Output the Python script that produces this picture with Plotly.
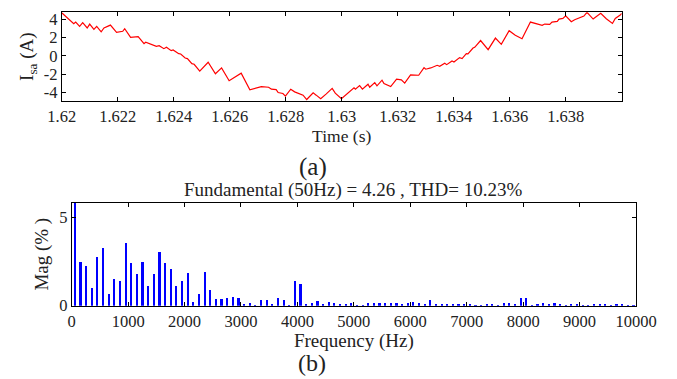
import plotly.graph_objects as go

# ---- (a) phase current waveform ----
time_s = [1.62000, 1.62043, 1.62050, 1.62064, 1.62075, 1.62091, 1.62100, 1.62115, 1.62125, 1.62141,
          1.62151, 1.62174, 1.62196, 1.62218, 1.62225, 1.62246, 1.62273, 1.62294, 1.62300, 1.62314,
          1.62338, 1.62348, 1.62365, 1.62374, 1.62391, 1.62398, 1.62418, 1.62425, 1.62441, 1.62449,
          1.62465, 1.62473, 1.62493, 1.62523, 1.62549, 1.62571, 1.62598, 1.62641, 1.62672, 1.62713,
          1.62725, 1.62739, 1.62749, 1.62766, 1.62773, 1.62790, 1.62799, 1.62818, 1.62832, 1.62850,
          1.62862, 1.62875, 1.62898, 1.62909, 1.62925, 1.62945, 1.62966, 1.62977, 1.62999, 1.63044,
          1.63049, 1.63064, 1.63074, 1.63094, 1.63100, 1.63118, 1.63126, 1.63144, 1.63151, 1.63175,
          1.63196, 1.63213, 1.63225, 1.63246, 1.63275, 1.63294, 1.63300, 1.63318, 1.63341, 1.63350,
          1.63368, 1.63375, 1.63394, 1.63401, 1.63421, 1.63430, 1.63445, 1.63451, 1.63469, 1.63475,
          1.63496, 1.63523, 1.63549, 1.63570, 1.63598, 1.63620, 1.63644, 1.63674, 1.63695, 1.63716,
          1.63725, 1.63743, 1.63751, 1.63770, 1.63776, 1.63790, 1.63800, 1.63820, 1.63832, 1.63865,
          1.63876, 1.63898, 1.63925, 1.63945, 1.63967, 1.63977, 1.63996, 1.64000]
current_a = [4.73, 3.53, 3.71, 3.24, 3.64, 3.06, 3.49, 2.91, 3.24, 2.65,
             3.06, 3.38, 2.59, 2.70, 2.98, 2.04, 2.11, 1.34, 1.50, 1.34,
             1.06, 1.12, 0.80, 0.95, 0.58, 0.66, 0.25, 0.22, -0.22, -0.29,
             -0.84, -0.91, -1.66, -0.69, -1.95, -1.31, -2.71, -1.88, -3.70, -3.35,
             -3.42, -3.42, -3.64, -3.68, -4.00, -4.11, -4.40, -3.64, -3.93, -4.11,
             -4.29, -4.77, -4.04, -4.29, -4.69, -4.15, -3.55, -4.07, -4.68, -3.49,
             -3.64, -3.24, -3.64, -3.09, -3.42, -2.91, -3.27, -2.65, -3.02, -3.35,
             -2.54, -2.62, -2.98, -2.07, -2.11, -1.27, -1.45, -1.31, -1.02, -1.13,
             -0.80, -0.95, -0.55, -0.66, -0.18, -0.29, 0.25, 0.22, 0.87, 0.95,
             1.69, 0.69, 1.96, 1.27, 2.76, 2.26, 1.89, 3.71, 3.56, 3.35,
             3.49, 3.46, 3.71, 3.78, 4.04, 4.11, 4.40, 3.75, 3.96, 4.37,
             4.78, 4.04, 4.68, 4.07, 3.56, 4.11, 4.51, 4.65]
time_ticks = [1.62, 1.622, 1.624, 1.626, 1.628, 1.63, 1.632, 1.634, 1.636, 1.638]
time_tick_labels = ["1.62", "1.622", "1.624", "1.626", "1.628", "1.63", "1.632", "1.634", "1.636", "1.638"]
current_ticks = [-4, -2, 0, 2, 4]
current_tick_labels = ["-4", "-2", "0", "2", "4"]

# ---- (b) harmonic spectrum (odd harmonics of 50 Hz) ----
freq_hz = [50 + 100 * k for k in range(100)]
mag_pct = [100.0, 2.49, 2.28, 1.04, 2.79, 3.30, 0.68, 1.51, 1.42, 3.58,
           2.42, 1.79, 2.47, 1.15, 1.79, 3.08, 2.42, 2.08, 1.11, 1.42,
           1.89, 0.21, 0.70, 1.91, 0.89, 0.42, 0.40, 0.47, 0.49, 0.45,
           0.11, 0.15, 0.04, 0.32, 0.32, 0.13, 0.43, 0.32, 0.02, 1.40,
           1.23, 0.08, 0.17, 0.30, 0.08, 0.23, 0.19, 0.08, 0.09, 0.19,
           0.04, 0.04, 0.19, 0.19, 0.19, 0.15, 0.15, 0.17, 0.13, 0.15,
           0.25, 0.19, 0.13, 0.32, 0.08, 0.08, 0.09, 0.09, 0.08, 0.08,
           0.08, 0.05, 0.04, 0.08, 0.08, 0.04, 0.15, 0.15, 0.06, 0.43,
           0.43, 0.04, 0.09, 0.15, 0.09, 0.15, 0.09, 0.04, 0.06, 0.06,
           0.04, 0.04, 0.09, 0.09, 0.08, 0.04, 0.09, 0.06, 0.04, 0.04]
freq_ticks = [0, 1000, 2000, 3000, 4000, 5000, 6000, 7000, 8000, 9000, 10000]
freq_tick_labels = ["0", "1000", "2000", "3000", "4000", "5000", "6000", "7000", "8000", "9000", "10000"]
mag_ticks = [0, 5]
mag_tick_labels = ["0", "5"]

FONT = "Liberation Serif"
INK = "#222222"
TICK = 16.5

# the page body has an 8 px default margin, so the figure is 8 px smaller
W, H, OFF = 669, 371, 8


def px(x):
    return (x - OFF) / W


def py(y):
    return 1 - (y - OFF) / H


fig = go.Figure()
fig.add_trace(go.Scatter(x=time_s, y=current_a, mode="lines",
                         line=dict(color="#ff0000", width=1.2),
                         xaxis="x", yaxis="y", showlegend=False))
fig.add_trace(go.Bar(x=freq_hz, y=mag_pct, width=38,
                     marker=dict(color="#0000ff", line=dict(width=0)),
                     xaxis="x2", yaxis="y2", showlegend=False))


def axis_style():
    return dict(showline=True, linecolor="black", linewidth=1, mirror="ticks",
                ticks="inside", ticklen=4, tickcolor="black", showgrid=False,
                zeroline=False, automargin=False,
                tickfont=dict(family=FONT, size=TICK, color=INK))


fig.update_layout(
    width=W, height=H,
    margin=dict(l=0, r=0, t=0, b=0),
    paper_bgcolor="white", plot_bgcolor="white",
    font=dict(family=FONT, size=TICK, color=INK),
    bargap=0,
    xaxis=dict(domain=[px(61.7), px(621.7)], anchor="y", range=[1.62, 1.64],
               tickmode="array", tickvals=time_ticks, ticktext=time_tick_labels,
               title=dict(text="Time (s)", font=dict(family=FONT, size=17.5, color=INK), standoff=2),
               **axis_style()),
    yaxis=dict(domain=[py(101), py(12.3)], anchor="x", range=[-4.93, 4.78],
               tickmode="array", tickvals=current_ticks, ticktext=current_tick_labels,
               title=dict(text="I<sub>sa</sub> (A)", font=dict(family=FONT, size=19, color=INK), standoff=4),
               **axis_style()),
    xaxis2=dict(domain=[px(71.7), px(636)], anchor="y2", range=[0, 10000],
                tickmode="array", tickvals=freq_ticks, ticktext=freq_tick_labels,
                title=dict(text="Frequency (Hz)", font=dict(family=FONT, size=19, color=INK), standoff=2),
                **axis_style()),
    yaxis2=dict(domain=[py(305.7), py(202.7)], anchor="x2", range=[0, 5.83],
                tickmode="array", tickvals=mag_ticks, ticktext=mag_tick_labels,
                title=dict(text="Mag (% )", font=dict(family=FONT, size=19, color=INK), standoff=5),
                **axis_style()),
    annotations=[
        dict(text="(a)", x=px(312.5), y=py(167), xref="paper", yref="paper",
             showarrow=False, font=dict(family=FONT, size=25, color=INK),
             xanchor="center", yanchor="middle"),
        dict(text="Fundamental (50Hz) = 4.26 , THD= 10.23%", x=px(353), y=py(190),
             xref="paper", yref="paper", showarrow=False,
             font=dict(family=FONT, size=19, color=INK), xanchor="center", yanchor="middle"),
        dict(text="(b)", x=px(312), y=py(363), xref="paper", yref="paper",
             showarrow=False, font=dict(family=FONT, size=24, color=INK),
             xanchor="center", yanchor="middle"),
    ],
)

fig.write_html("out.html")
